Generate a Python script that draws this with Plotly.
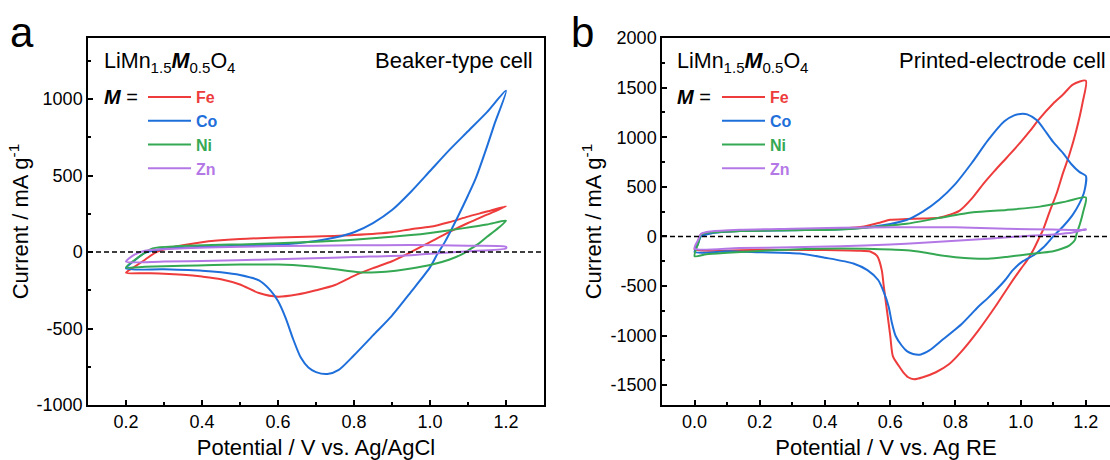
import plotly.graph_objects as go

W, H = 1110, 460
FONT = "Arial, Liberation Sans, sans-serif"

# ---------------- data: panel a (beaker-type cell) ----------------
fe_a_v = [0.20, 0.22, 0.25, 0.28, 0.32, 0.40, 0.50, 0.60, 0.70, 0.80, 0.90, 0.95, 1.00, 1.05, 1.10, 1.15, 1.20,
          1.15, 1.10, 1.05, 1.00, 0.95, 0.90, 0.85, 0.80, 0.75, 0.70, 0.65, 0.60, 0.55, 0.50, 0.45, 0.40, 0.35, 0.30, 0.25, 0.20]
fe_a_i = [-135, -100, -50, 0, 30, 65, 85, 95, 102, 112, 130, 150, 165, 195, 232, 265, 300,
          245, 190, 130, 65, 0, -60, -105, -155, -215, -250, -278, -292, -268, -212, -177, -160, -148, -141, -138, -135]

co_a_v = [0.20, 0.22, 0.25, 0.30, 0.40, 0.50, 0.60, 0.65, 0.70, 0.75, 0.80, 0.85, 0.90, 0.95, 1.00, 1.05, 1.10, 1.15, 1.20,
          1.17, 1.15, 1.12, 1.10, 1.07, 1.04, 1.02, 1.00, 0.95, 0.90, 0.85, 0.80, 0.76, 0.73, 0.70, 0.68, 0.66, 0.64, 0.62,
          0.60, 0.58, 0.55, 0.50, 0.45, 0.40, 0.30, 0.20]
co_a_i = [-107, -60, -5, 22, 35, 42, 50, 58, 72, 95, 130, 190, 275, 395, 530, 665, 790, 915, 1055,
          840, 690, 480, 370, 215, 70, -10, -100, -260, -415, -545, -675, -770, -797, -785, -755, -690, -570, -430,
          -320, -250, -185, -150, -132, -122, -113, -107]

ni_a_v = [0.20, 0.23, 0.27, 0.34, 0.52, 0.60, 0.70, 0.78, 0.85, 0.95, 1.00, 1.085, 1.15, 1.20,
          1.173, 1.15, 1.129, 1.10, 1.085, 1.05, 1.00, 0.95, 0.91, 0.86, 0.82, 0.78, 0.735, 0.68, 0.60, 0.50, 0.43,
          0.35, 0.25, 0.20]
ni_a_i = [-100, -39, 24, 39, 52, 58, 68, 78, 90, 111, 125, 155, 180, 205,
          144, 100, 57, 10, -13, -50, -85, -108, -122, -132, -133, -122, -107, -92, -81, -82, -85,
          -90, -96, -100]

zn_a_v = [0.20, 0.22, 0.25, 0.34, 0.60, 0.80, 0.95, 1.10, 1.20,
          1.20, 1.10, 1.04, 0.95, 0.80, 0.69, 0.55, 0.43, 0.30, 0.20]
zn_a_i = [-63, -20, 9, 24, 39, 44, 46, 42, 35,
          24, 5, -4, -20, -32, -41, -50, -57, -61, -63]

# ---------------- data: panel b (printed-electrode cell) ----------------
fe_b_v = [0.00, 0.01, 0.02, 0.05, 0.14, 0.30, 0.45, 0.52, 0.57, 0.60, 0.65, 0.70, 0.75, 0.78, 0.813, 0.85, 0.885,
          0.92, 0.957, 1.00, 1.028, 1.056, 1.10, 1.13, 1.16, 1.20,
          1.19, 1.17, 1.15, 1.13, 1.11, 1.09, 1.068, 1.059, 1.04, 1.018, 1.00, 0.96, 0.924, 0.87, 0.816, 0.78, 0.74,
          0.70, 0.673, 0.655, 0.64, 0.625, 0.608, 0.60, 0.591, 0.58, 0.574, 0.56, 0.54, 0.50, 0.40, 0.20, 0.00]
fe_b_i = [-130, -60, 20, 40, 55, 68, 80, 100, 140, 167, 175, 180, 187, 215, 260, 380, 527,
          660, 793, 950, 1060, 1180, 1340, 1430, 1530, 1570,
          1350, 1060, 830, 640, 430, 260, 60, 0, -130, -250, -330, -520, -700, -950, -1170, -1290, -1370,
          -1420, -1440, -1420, -1370, -1300, -1207, -1000, -773, -500, -340, -200, -155, -145, -138, -135, -130]

co_b_v = [0.00, 0.01, 0.02, 0.05, 0.14, 0.30, 0.45, 0.55, 0.60, 0.65, 0.70, 0.75, 0.80, 0.85, 0.90, 0.95, 0.98,
          1.00, 1.02, 1.05, 1.08, 1.10, 1.13, 1.155, 1.18, 1.20,
          1.195, 1.18, 1.16, 1.13, 1.10, 1.07, 1.04, 1.007, 0.976, 0.95, 0.90, 0.87, 0.82, 0.761, 0.72, 0.694, 0.67,
          0.651, 0.635, 0.617, 0.605, 0.595, 0.58, 0.563, 0.53, 0.487, 0.40, 0.322, 0.20, 0.103, 0.00]
co_b_i = [-157, -80, 0, 30, 53, 62, 72, 100, 125, 165, 250, 370, 530, 740, 970, 1160, 1220,
          1235, 1230, 1170, 1040, 950, 840, 730, 650, 610,
          450, 330, 220, 100, 0, -110, -190, -250, -340, -450, -620, -710, -880, -1040, -1150, -1190, -1185,
          -1157, -1100, -1007, -870, -707, -560, -440, -340, -273, -215, -173, -160, -150, -157]

ni_b_v = [0.00, 0.012, 0.02, 0.05, 0.138, 0.30, 0.445, 0.55, 0.65, 0.752, 0.854, 0.957, 1.059, 1.141, 1.20,
          1.192, 1.182, 1.172, 1.166, 1.15, 1.13, 1.10, 1.059, 1.00, 0.957, 0.90, 0.854, 0.80, 0.752, 0.70, 0.65,
          0.55, 0.445, 0.30, 0.24, 0.10, 0.036, 0.00]
ni_b_i = [-200, -60, 20, 40, 53, 62, 70, 95, 127, 187, 243, 267, 300, 353, 393,
          250, 127, 30, -40, -90, -120, -150, -167, -190, -207, -225, -223, -210, -190, -160, -140,
          -128, -123, -132, -140, -165, -180, -200]

zn_b_v = [0.00, 0.01, 0.02, 0.05, 0.138, 0.30, 0.445, 0.60, 0.752, 0.85, 0.957, 1.10, 1.20,
          1.20, 1.16, 1.10, 1.00, 0.90, 0.80, 0.70, 0.60, 0.445, 0.30, 0.138, 0.00]
zn_b_i = [-123, -40, 27, 50, 67, 78, 87, 92, 93, 88, 77, 70, 67,
          72, 40, 20, 0, -25, -45, -65, -82, -100, -110, -117, -123]

series_names = ["Fe", "Co", "Ni", "Zn"]
colors = ["#EE3C3C", "#1F6FDB", "#35A853", "#B478E6"]
panel_a = [(fe_a_v, fe_a_i), (co_a_v, co_a_i), (ni_a_v, ni_a_i), (zn_a_v, zn_a_i)]
panel_b = [(fe_b_v, fe_b_i), (co_b_v, co_b_i), (ni_b_v, ni_b_i), (zn_b_v, zn_b_i)]

# axes ranges and ticks
xa_range = [0.1, 1.3]
xb_range = [-0.1, 1.274]
ya_range = [-1000, 1400]
yb_range = [-1700, 2000]
ya_ticks = [-1000, -500, 0, 500, 1000]
ya_minor = [-750, -250, 250, 750, 1250]
yb_ticks = [-1500, -1000, -500, 0, 500, 1000, 1500, 2000]
yb_minor = [-1250, -750, -250, 250, 750, 1250, 1750]


def fx(p):
    return p / W


def fy(p):
    return 1 - p / H


fig = go.Figure()
for (v, i), nm, c in zip(panel_a, series_names, colors):
    fig.add_trace(go.Scatter(x=v, y=i, mode="lines", line=dict(color=c, width=2, shape="spline", smoothing=0.7),
                             name=f"<span style='color:{c}'>{nm}</span>",
                             xaxis="x", yaxis="y", legend="legend"))
for (v, i), nm, c in zip(panel_b, series_names, colors):
    fig.add_trace(go.Scatter(x=v, y=i, mode="lines", line=dict(color=c, width=2, shape="spline", smoothing=0.7),
                             name=f"<span style='color:{c}'>{nm}</span>",
                             xaxis="x2", yaxis="y2", legend="legend2"))

axis_common = dict(showline=True, linecolor="black", linewidth=1.5, ticks="inside", ticklen=5,
                   tickwidth=1.5, tickcolor="black", showgrid=False, zeroline=False,
                   tickfont=dict(family=FONT, size=18, color="black"))

legend_common = dict(xanchor="left", yanchor="top", bgcolor="rgba(0,0,0,0)",
                     font=dict(family=FONT, size=16, weight="bold"), itemwidth=43, tracegroupgap=0,
                     traceorder="normal")

fig.update_layout(
    width=W, height=H, margin=dict(l=0, r=0, t=0, b=0),
    paper_bgcolor="white", plot_bgcolor="white",
    font=dict(family=FONT, color="black"),
    xaxis=dict(domain=[fx(88), fx(544)], range=xa_range, anchor="y", mirror=True,
               tick0=0.2, dtick=0.2, tickformat=".1f", automargin=False,
               minor=dict(dtick=0.1, tick0=0.1, ticks="inside", ticklen=3, tickwidth=1.5, tickcolor="black"),
               title=dict(text="Potential / V vs. Ag/AgCl", font=dict(size=22), standoff=10),
               **axis_common),
    yaxis=dict(domain=[fy(405), fy(38)], range=ya_range, anchor="x", mirror=True,
               tickmode="array", tickvals=ya_ticks, ticktext=[str(t) for t in ya_ticks], automargin=False,
               minor=dict(tickmode="array", tickvals=ya_minor, ticks="inside", ticklen=3, tickwidth=1.5,
                          tickcolor="black"),
               title=dict(text="Current / mA g<sup>-1</sup>", font=dict(size=22), standoff=2),
               **axis_common),
    xaxis2=dict(domain=[fx(662), 1.0], range=xb_range, anchor="y2", mirror=True,
                tick0=0.0, dtick=0.2, tickformat=".1f", automargin=False,
                minor=dict(dtick=0.1, tick0=0.1, ticks="inside", ticklen=3, tickwidth=1.5, tickcolor="black"),
                title=dict(text="Potential / V vs. Ag RE", font=dict(size=22), standoff=10),
                **axis_common),
    yaxis2=dict(domain=[fy(405), fy(38)], range=yb_range, anchor="x2", mirror=False,
                tickmode="array", tickvals=yb_ticks, ticktext=[str(t) for t in yb_ticks], automargin=False,
                minor=dict(tickmode="array", tickvals=yb_minor, ticks="inside", ticklen=3, tickwidth=1.5,
                           tickcolor="black"),
                title=dict(text="Current / mA g<sup>-1</sup>", font=dict(size=22), standoff=3),
                **axis_common),
    legend=dict(x=fx(143), y=fy(80), **legend_common),
    legend2=dict(x=fx(717), y=fy(80), **legend_common),
    showlegend=True,
)

dash_line = dict(color="black", width=1.5, dash="5px,3px")
fig.add_shape(type="line", xref="x domain", yref="y", x0=0, x1=1, y0=0, y1=0, line=dash_line, layer="above")
fig.add_shape(type="line", xref="x2 domain", yref="y2", x0=0, x1=1, y0=0, y1=0, line=dash_line, layer="above")

formula = "LiMn<sub>1.5</sub><b><i>M</i></b><sub>0.5</sub>O<sub>4</sub>"
ann = [
    dict(text="a", x=fx(8), y=fy(32), size=42, xanchor="left"),
    dict(text="b", x=fx(569), y=fy(32), size=42, xanchor="left"),
    dict(text=formula, x=fx(102), y=fy(62), size=21.5, xanchor="left"),
    dict(text=formula, x=fx(675), y=fy(62), size=21.5, xanchor="left"),
    dict(text="Beaker-type cell", x=fx(535), y=fy(60), size=22, xanchor="right"),
    dict(text="Printed-electrode cell", x=fx(1108), y=fy(60), size=22, xanchor="right"),
    dict(text="<b><i>M</i></b> =", x=fx(102), y=fy(97), size=20, xanchor="left"),
    dict(text="<b><i>M</i></b> =", x=fx(675), y=fy(97), size=20, xanchor="left"),
]
for a in ann:
    fig.add_annotation(text=a["text"], x=a["x"], y=a["y"], xref="paper", yref="paper",
                       xanchor=a["xanchor"], yanchor="middle", showarrow=False,
                       font=dict(family=FONT, size=a["size"], color="black"))

fig.write_html("out.html", config={"displayModeBar": False},
               post_script="document.body.style.margin='0px';document.body.style.overflow='hidden';")
